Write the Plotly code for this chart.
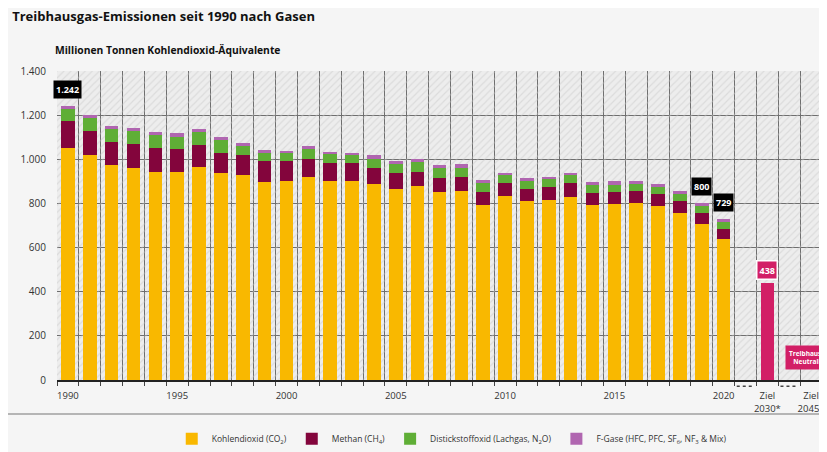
import plotly.graph_objects as go

YEARS = [str(y) for y in range(1990, 2021)]
CO2 = [1053, 1020, 973, 962, 944, 944, 965, 936, 929, 899, 901, 920, 901, 901, 889, 867,
       879, 851, 856, 795, 833, 811, 815, 830, 795, 798, 803, 788, 758, 705, 637]
CH4 = [120, 109, 106, 106, 105, 101, 99, 94, 89, 93, 89, 80, 81, 81, 73, 71,
       65, 66, 64, 56, 59, 56, 59, 61, 53, 53, 53, 53, 53, 51, 47]
N2O = [57, 59, 57, 61, 60, 58, 60, 58, 43, 35, 37, 45, 41, 36, 41, 39,
       44, 45, 42, 43, 35, 34, 35, 36, 35, 34, 33, 35, 33, 32, 33]
FGAS = [12, 12, 16, 15, 15, 17, 15, 15, 15, 14, 12, 13, 12, 12, 15, 15,
        12, 12, 15, 12, 12, 13, 12, 12, 14, 15, 12, 13, 12, 12, 12]
TOTAL_LABELS = {"1990": "1.242", "2019": "800", "2020": "729"}
TARGET_CATS = ["Ziel 2030*", "Ziel 2045*"]
TARGET_VALUES = [438, 0]
TARGET_LABELS = ["438", "Treibhausgas-<br>Neutralität"]
GAP_CATS = ["gap1", "gap2"]
CATS = YEARS + [GAP_CATS[0], TARGET_CATS[0], GAP_CATS[1], TARGET_CATS[1]]
TICK_TEXT = {"1990": "1990", "1995": "1995", "2000": "2000", "2005": "2005",
             "2010": "2010", "2015": "2015", "2020": "2020",
             "Ziel 2030*": "Ziel<br>2030*", "Ziel 2045*": "Ziel<br>2045*"}
Y_MAX = 1400
Y_TICKS = [0, 200, 400, 600, 800, 1000, 1200, 1400]

C_CO2 = "#f9b800"
C_CH4 = "#83053c"
C_N2O = "#5fae36"
C_F = "#b066b0"
C_PINK = "#d21f66"
FONT = "Open Sans"

pos = {c: i for i, c in enumerate(CATS)}
xs_years = [pos[y] for y in YEARS]
xs_target = [pos[c] for c in TARGET_CATS]
boundaries = [i - 0.5 for i in range(len(CATS) + 1)]

fig = go.Figure()

# hatched background
fig.add_trace(go.Bar(
    x=list(range(len(CATS))), y=[Y_MAX] * len(CATS), width=1.0, showlegend=False,
    hoverinfo="skip",
    marker=dict(color="rgba(0,0,0,0)", line=dict(width=0),
                pattern=dict(shape="/", fgcolor="#cacaca", bgcolor="rgba(0,0,0,0)",
                             size=5, solidity=0.24, fillmode="overlay")),
))

base = [0] * len(YEARS)
for name, vals, col in [
    ("Kohlendioxid (CO<sub>2</sub>)", CO2, C_CO2),
    ("Methan (CH<sub>4</sub>)", CH4, C_CH4),
    ("Distickstoffoxid (Lachgas, N<sub>2</sub>O)", N2O, C_N2O),
    ("F-Gase (HFC, PFC, SF<sub>6</sub>, NF<sub>3</sub> &amp; Mix)", FGAS, C_F),
]:
    fig.add_trace(go.Bar(x=xs_years, y=vals, base=base, name=name, width=0.62,
                         marker=dict(color=col, line=dict(width=0))))
    base = [b + v for b, v in zip(base, vals)]

fig.add_trace(go.Bar(x=xs_target, y=TARGET_VALUES, width=0.62, showlegend=False,
                     marker=dict(color=C_PINK, line=dict(width=0))))

totals = {y: b for y, b in zip(YEARS, base)}
for yr, txt in TOTAL_LABELS.items():
    fig.add_annotation(x=pos[yr], y=totals[yr], text="<b>" + txt + "</b>", showarrow=False,
                       yanchor="bottom", yshift=7, bgcolor="#000000",
                       font=dict(color="white", size=9, family=FONT),
                       borderpad=2)

fig.add_annotation(x=xs_target[0], y=TARGET_VALUES[0], text="<b>" + TARGET_LABELS[0] + "</b>",
                   showarrow=False, yanchor="bottom", yshift=3, bgcolor=C_PINK,
                   bordercolor="white", borderwidth=1.5, borderpad=2,
                   font=dict(color="white", size=9, family=FONT))
fig.add_annotation(x=xs_target[1], y=TARGET_VALUES[1], text="<b>" + TARGET_LABELS[1] + "</b>",
                   showarrow=False, yanchor="bottom", yshift=10, bgcolor=C_PINK, borderpad=3,
                   font=dict(color="white", size=6.5, family=FONT))

# dotted gap markers under axis
for g in GAP_CATS:
    i = pos[g]
    fig.add_shape(type="line", xref="x", yref="paper", x0=i - 0.4, x1=i + 0.4,
                  y0=-0.02, y1=-0.02, line=dict(color="#444", width=1.6, dash="dot"))

# separator line
fig.add_shape(type="line", xref="paper", yref="paper", x0=-0.07, x1=1.02,
              y0=-0.11, y1=-0.11, line=dict(color="#b5b5b5", width=2))

fig.update_layout(
    width=827, height=444,
    margin=dict(l=49, r=13, t=63, b=72, autoexpand=False),
    paper_bgcolor="#f5f5f5", plot_bgcolor="#ededed",
    barmode="overlay", bargap=0,
    separators=",.",
    font=dict(family=FONT, color="#333"),
    title=dict(text="<b>Treibhausgas-Emissionen seit 1990 nach Gasen</b>",
               x=0.005, xanchor="left", y=0.98, yanchor="middle",
               font=dict(size=13, color="#111", family=FONT)),
    showlegend=True,
    legend=dict(orientation="h", x=0.15, xanchor="left", y=-0.19, yanchor="middle",
                font=dict(size=8.5, color="#333", family=FONT), bgcolor="rgba(0,0,0,0)",
                traceorder="normal", itemwidth=30),
    xaxis=dict(range=[-0.5, len(CATS) - 0.5], automargin=False,
               tickmode="array", tickvals=[pos[c] for c in TICK_TEXT],
               ticktext=list(TICK_TEXT.values()), tickangle=0,
               ticks="", showgrid=False, zeroline=False, ticklabelstandoff=6,
               minor=dict(tickmode="array", tickvals=boundaries, ticks="outside",
                          ticklen=4, tickcolor="#444", showgrid=True,
                          gridcolor="#6e6e6e", gridwidth=1.3),
               showline=True, linecolor="#222", linewidth=1.5,
               tickfont=dict(size=9.5, color="#333"), fixedrange=True),
    yaxis=dict(range=[0, Y_MAX], tickmode="array", tickvals=Y_TICKS, automargin=False,
               tickformat=",d", showgrid=True, gridcolor="#6e6e6e", gridwidth=1.3,
               zeroline=False, showline=False, ticks="", ticklabelstandoff=10,
               tickfont=dict(size=10, color="#333")),
)

fig.add_annotation(xref="paper", yref="paper", x=-0.005, y=1.068, xanchor="left",
                   yanchor="middle", showarrow=False,
                   text="<b>Millionen Tonnen Kohlendioxid-Äquivalente</b>",
                   font=dict(size=10.3, color="#111", family=FONT))

fig.write_html("out.html")
